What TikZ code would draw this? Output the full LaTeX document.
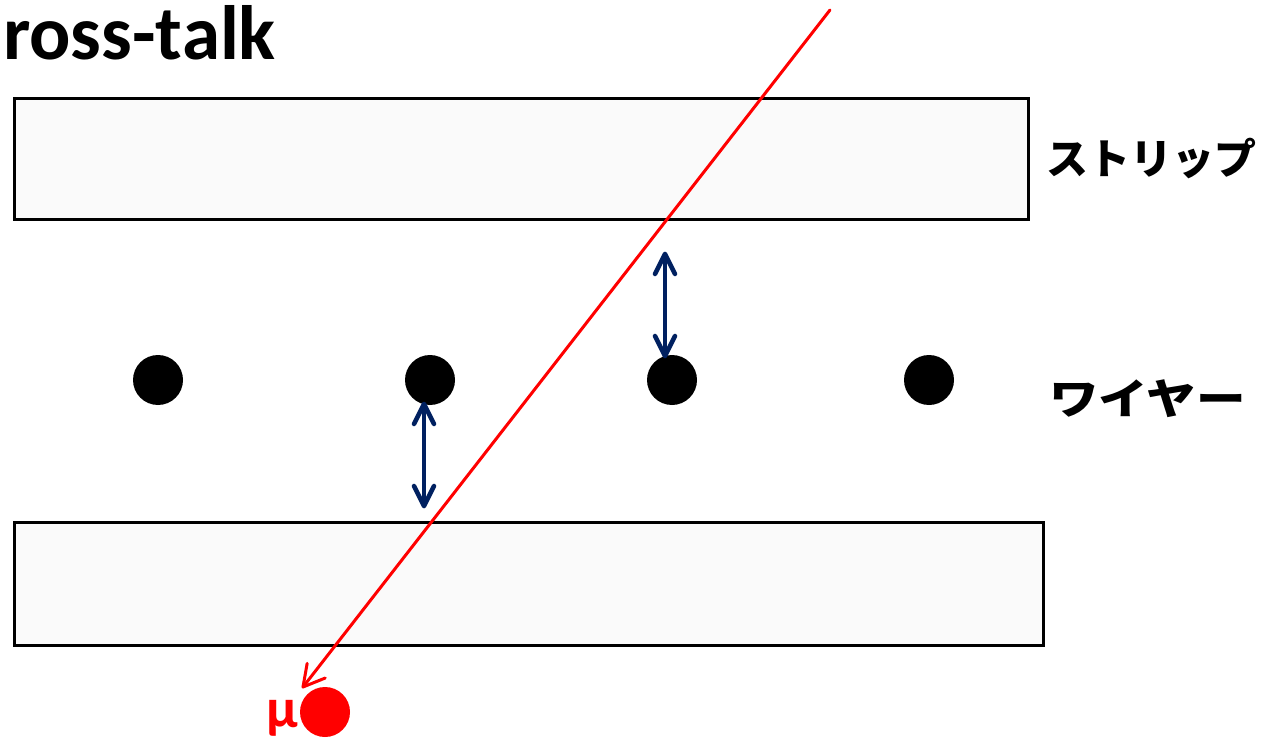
\documentclass[tikz,border=0pt]{standalone}
\usepackage{fontspec}
\setmainfont{Carlito}
\newfontfamily\jpfont{Noto Sans CJK JP}
\usetikzlibrary{calc}
\definecolor{navy}{HTML}{002060}
\definecolor{stripfill}{HTML}{FAFAFA}
\tikzset{
  strip/.style={draw=black, line width=3pt, fill=stripfill},
  wire/.style={circle, fill=black, minimum size=50pt, inner sep=0pt},
  gap/.style={draw=navy, line width=4.5pt, line join=round, line cap=round},
  track/.style={draw=red, line width=3pt, line join=round, line cap=round},
  label/.style={font=\jpfont\fontsize{42pt}{42pt}\selectfont\bfseries, anchor=west, inner sep=0pt}
}
\begin{document}
\begin{tikzpicture}[x=1pt, y=-1pt]
  \useasboundingbox (0,0) rectangle (1266,743);
  % title
  \node[anchor=base east, inner sep=0pt, font=\fontsize{77pt}{77pt}\selectfont\bfseries] (title) at (276,60) {ross-talk};
  % strips
  \draw[strip] (14,99) rectangle (1028,220);
  \draw[strip] (14,522) rectangle (1043,645);
  % wires
  \node[wire] (w1) at (158,380) {};
  \node[wire] (w2) at (430,380) {};
  \node[wire] (w3) at (672,380) {};
  \node[wire] (w4) at (929,380) {};
  % distance arrows between strips and wires (shaft plus open heads)
  \coordinate (a1t) at (665,254);
  \coordinate (a1b) at (665,356);
  \coordinate (a2t) at (424,404);
  \coordinate (a2b) at (424,506);
  \draw[gap] (a1t) -- (a1b);
  \draw[gap] ($(a1t)+(-10,20)$) -- (a1t) -- ($(a1t)+(10,20)$);
  \draw[gap] ($(a1b)+(-10,-20)$) -- (a1b) -- ($(a1b)+(10,-20)$);
  \draw[gap] (a2t) -- (a2b);
  \draw[gap] ($(a2t)+(-10,20)$) -- (a2t) -- ($(a2t)+(10,20)$);
  \draw[gap] ($(a2b)+(-10,-20)$) -- (a2b) -- ($(a2b)+(10,-20)$);
  % muon track
  \coordinate (mstart) at (830,10);
  \coordinate (mend) at (303,687);
  \draw[track] (mstart) -- (mend);
  \draw[track] ($(mend)+(-80:24)$) -- (mend) -- ($(mend)+(-22:24)$);
  \node[circle, fill=red, minimum size=50pt, inner sep=0pt] (mu) at (325,712) {};
  \node[text=red, anchor=base east, inner sep=0pt, font=\fontsize{56pt}{56pt}\selectfont\bfseries] (mulabel) at (298,727) {μ};
  % labels
  \node[label] (lstrip) at (1046,158) {ストリップ};
  \node[label, xscale=1.18] (lwire) at (1049,399) {ワイヤー};
\end{tikzpicture}
\end{document}
